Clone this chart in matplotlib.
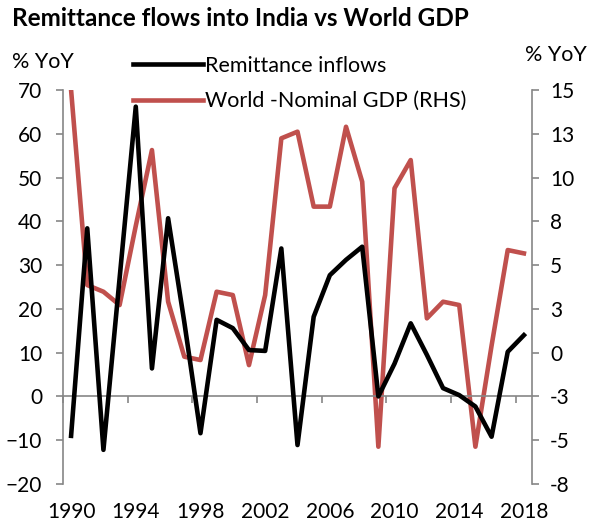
import matplotlib
matplotlib.use("Agg")
import matplotlib.pyplot as plt
from matplotlib.ticker import FuncFormatter
import math

years = list(range(1990, 2019))
remittance = [-9.0, 38.4, -12.2, 27.0, 66.2, 6.4, 40.7, 17.0, -8.4, 17.5,
              15.6, 10.6, 10.4, 33.8, -11.1, 18.2, 27.7, 31.2, 34.2, 0.0,
              7.5, 16.7, 9.5, 1.9, 0.3, -2.3, -9.2, 10.2, 14.0]
world_gdp = [15.0, 3.86, 3.48, 2.72, 7.24, 11.57, 2.91, -0.23, -0.42, 3.48,
             3.29, -0.71, 3.29, 12.24, 12.62, 8.34, 8.34, 12.9, 9.76, -5.37,
             9.39, 11.0, 1.96, 2.91, 2.72, -5.37, 0.4, 5.86, 5.67]
label_years = [1990, 1994, 1998, 2002, 2006, 2010, 2014, 2018]
left_ticks = list(range(-20, 71, 10))
right_ticks = [-7.5, -5, -2.5, 0, 2.5, 5, 7.5, 10, 12.5, 15]

RED = "#C0504D"
GRAY = "#868686"
FS = 15
plt.rcParams["font.family"] = ["Lato", "DejaVu Sans"]

fig = plt.figure(figsize=(5.9, 5.22), dpi=100)
ax = fig.add_axes([63 / 590, 1 - 484 / 522, 469 / 590, 394 / 522])
ax2 = ax.twinx()

ax.plot(years, remittance, color="black", lw=3.3, label="Remittance inflows", zorder=3)
ax2.plot(years, world_gdp, color=RED, lw=3.3, label="World -Nominal GDP (RHS)")
ax.set_zorder(ax2.get_zorder() + 1)
ax.patch.set_visible(False)

ax.set_xlim(1989.5, 2018.5)
ax.set_ylim(-20, 70)
ax2.set_ylim(-7.5, 15)
ax.set_yticks(left_ticks)
ax2.set_yticks(right_ticks)


def excel_round(v, pos):
    return str(int(math.copysign(math.floor(abs(v) + 0.5), v)))


ax2.yaxis.set_major_formatter(FuncFormatter(excel_round))

# category boundary ticks along the zero line
ax.spines["bottom"].set_position(("data", 0))
ax.set_xticks([y - 0.5 for y in label_years])
ax.set_xticklabels([])
ax.tick_params(axis="x", length=5, color=GRAY, width=1.2)

sec = ax.secondary_xaxis("bottom")
sec.set_xticks(label_years)
sec.set_xticklabels([str(y) for y in label_years], fontsize=FS)
sec.tick_params(length=0, pad=13)
sec.spines["bottom"].set_visible(False)

for a in (ax, ax2):
    a.spines["top"].set_visible(False)
    for s in ("left", "right", "bottom"):
        a.spines[s].set_color(GRAY)
        a.spines[s].set_linewidth(1.2)
ax2.spines["bottom"].set_visible(False)
ax.spines["right"].set_visible(False)
ax2.spines["left"].set_visible(False)

ax.tick_params(axis="y", length=5, color=GRAY, width=1.2, labelsize=FS, pad=10)
ax2.tick_params(axis="y", length=5, color=GRAY, width=1.2, labelsize=FS, pad=8)

fig.text(12 / 590, 1 - 18 / 522, "Remittance flows into India vs World GDP",
         fontsize=17.5, fontweight="bold", va="center", ha="left")
fig.text(12 / 590, 1 - 62 / 522, "% YoY", fontsize=15.5, va="center", ha="left")
fig.text(587 / 590, 1 - 55 / 522, "% YoY", fontsize=15.5, va="center", ha="right")

h1, l1 = ax.get_legend_handles_labels()
h2, l2 = ax2.get_legend_handles_labels()
fig.legend(h1 + h2, l1 + l2, loc="upper left", bbox_to_anchor=(133 / 590, 1 - 56 / 522),
           frameon=False, fontsize=15.5, handlelength=3.25, handletextpad=0.1,
           labelspacing=0.7, borderpad=0, borderaxespad=0)

fig.savefig("out.png", dpi=100)
